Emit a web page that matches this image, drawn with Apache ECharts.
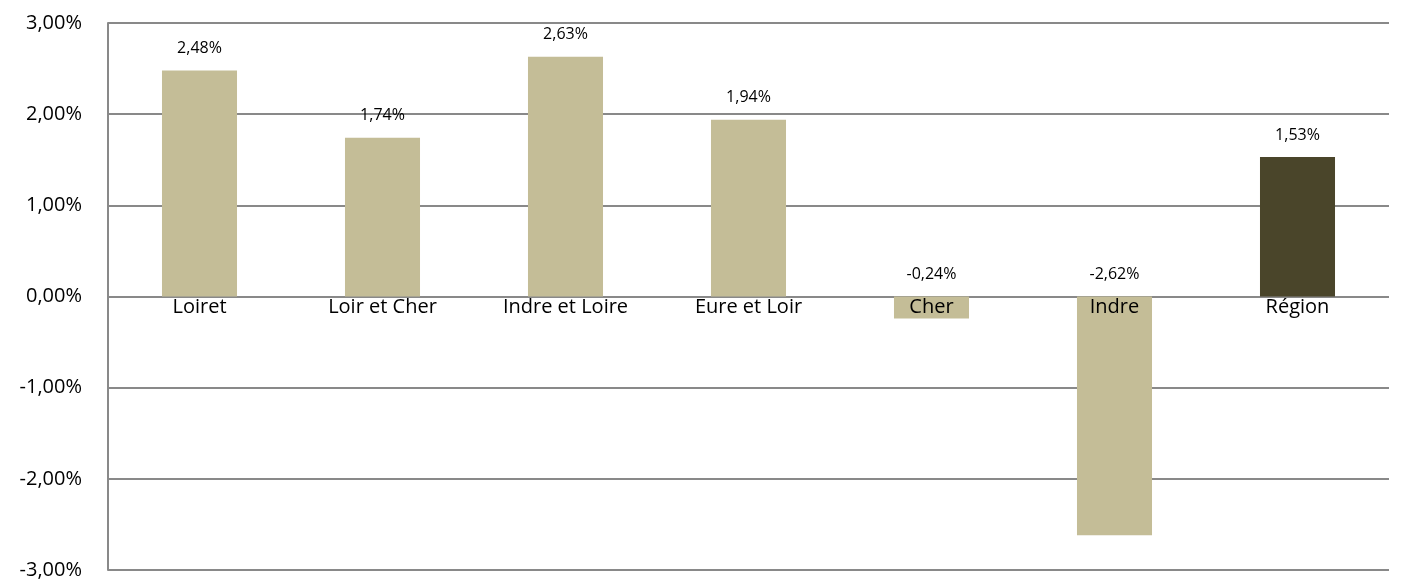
<!DOCTYPE html>
<html>
<head>
<meta charset="utf-8">
<script src="https://cdn.jsdelivr.net/npm/echarts@6/dist/echarts.min.js"></script>
<style>
  html, body { margin: 0; padding: 0; background: #fff; }
  #chart { width: 1401px; height: 581px; }
</style>
</head>
<body>
<div id="chart"></div>
<script>
const categories = ['Loiret', 'Loir et Cher', 'Indre et Loire', 'Eure et Loir', 'Cher', 'Indre', 'Région'];
const values = [2.48, 1.74, 2.63, 1.94, -0.24, -2.62, 1.53];
const barColors = ['#C4BD97', '#C4BD97', '#C4BD97', '#C4BD97', '#C4BD97', '#C4BD97', '#4A452A'];

function fmt(v) {
    return v.toFixed(2).replace('.', ',') + '%';
}

const chart = echarts.init(document.getElementById('chart'));
const option = {
    animation: false,
    textStyle: { fontFamily: 'Open Sans, Noto Sans, sans-serif' },
    grid: { left: 108, right: 12, top: 23, bottom: 11, containLabel: false, outerBoundsMode: 'none' },
    xAxis: {
        type: 'category',
        data: categories,
        position: 'bottom',
        // labels sit just under the zero line
        offset: -273.5,
        axisLine: { show: false, onZero: false },
        axisTick: { show: false },
        axisLabel: { color: '#000', fontSize: 20, margin: 1, interval: 0 },
        splitLine: { show: false },
        z: 5
    },
    yAxis: {
        type: 'value',
        min: -3,
        max: 3,
        interval: 1,
        axisLine: { show: true, lineStyle: { color: '#898989', width: 2 } },
        axisTick: { show: false },
        axisLabel: { color: '#000', fontSize: 20, margin: 26, formatter: fmt },
        splitLine: { lineStyle: { color: '#898989', width: 2 } }
    },
    series: [{
        type: 'bar',
        barWidth: '41%',
        data: values.map((v, i) => ({
            value: v,
            itemStyle: { color: barColors[i] }
        })),
        label: {
            show: true,
            position: 'top',
            distance: 14,
            color: '#000',
            fontSize: 16,
            formatter: (p) => fmt(p.value)
        }
    }]
};
chart.setOption(option);
</script>
</body>
</html>
